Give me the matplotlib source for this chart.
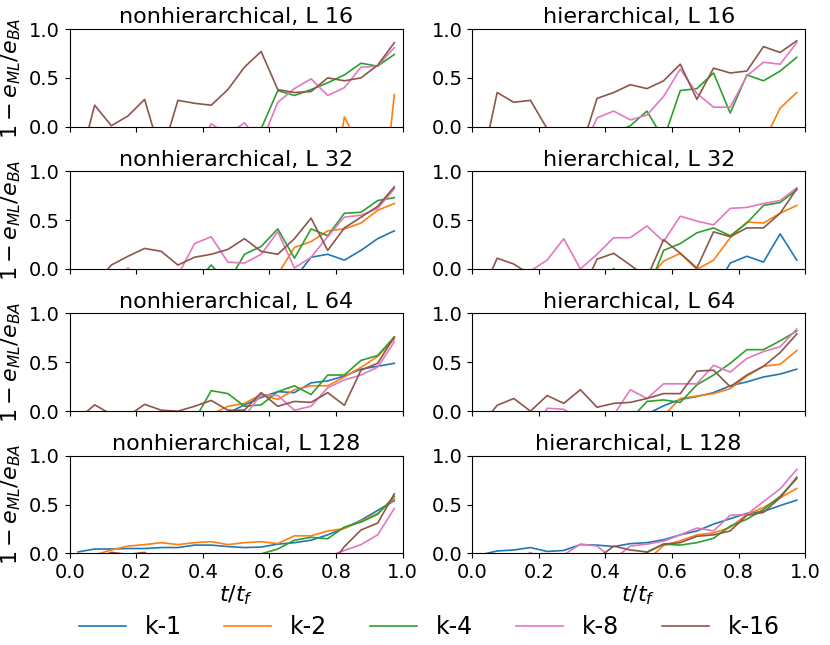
import matplotlib
matplotlib.use("Agg")
import matplotlib.pyplot as plt

# time points (fraction of final time)
t = [0.025, 0.075, 0.125, 0.175, 0.225, 0.275, 0.325, 0.375, 0.425, 0.475,
     0.525, 0.575, 0.625, 0.675, 0.725, 0.775, 0.825, 0.875, 0.925, 0.975]

series_labels = ["k-1", "k-2", "k-4", "k-8", "k-16"]
series_colors = ["#1f77b4", "#ff7f0e", "#2ca02c", "#e377c2", "#8c564b"]

# nonhierarchical, L 16
nh16_k1 = [-0.9, -0.8, -0.9, -0.7, -0.8, -0.7, -0.6, -0.7, -0.6, -0.5,
           -0.6, -0.5, -0.4, -0.5, -0.4, -0.3, -0.4, -0.3, -0.2, -0.1]
nh16_k2 = [-0.9, -1.0, -0.9, -1.1, -1.0, -0.9, -1.0, -1.1, -0.9, -1.0,
           -0.8, -0.9, -1.0, -0.8, -0.9, -0.9, 0.10, -0.23, -1.3, 0.33]
nh16_k4 = [-0.8, -0.9, -0.8, -0.7, -0.8, -0.7, -0.6, -0.7, -0.6, -0.5,
           -0.4, -0.02, 0.37, 0.32, 0.38, 0.45, 0.53, 0.65, 0.62, 0.74]
nh16_k8 = [-0.6, -0.7, -0.6, -0.7, -0.6, -0.5, -0.6, -0.3, 0.03, -0.08,
           0.04, -0.17, 0.25, 0.39, 0.49, 0.32, 0.40, 0.61, 0.62, 0.81]
nh16_k16 = [-0.43, 0.22, 0.01, 0.11, 0.28, -0.30, 0.27, 0.24, 0.22, 0.38,
            0.61, 0.77, 0.38, 0.35, 0.36, 0.50, 0.47, 0.50, 0.63, 0.86]

# hierarchical, L 16
h16_k1 = [-0.9, -0.8, -0.9, -0.7, -0.8, -0.7, -0.6, -0.7, -0.6, -0.5,
          -0.6, -0.5, -0.4, -0.5, -0.4, -0.3, -0.4, -0.3, -0.2, -0.1]
h16_k2 = [-0.9, -1.0, -0.9, -1.1, -1.0, -0.9, -1.0, -1.1, -0.9, -1.0,
          -0.8, -0.9, -1.0, -0.8, -0.9, -0.7, -0.5, -0.16, 0.19, 0.35]
h16_k4 = [-0.8, -0.9, -0.8, -0.7, -0.8, -0.7, -0.6, -0.5, -0.06, 0.01,
          0.16, -0.13, 0.37, 0.39, 0.55, 0.14, 0.53, 0.47, 0.57, 0.71]
h16_k8 = [-0.6, -0.7, -0.6, -0.7, -0.6, -0.5, -0.28, 0.09, 0.16, 0.07,
          0.12, 0.31, 0.59, 0.34, 0.20, 0.20, 0.52, 0.66, 0.64, 0.86]
h16_k16 = [-0.45, 0.35, 0.25, 0.27, -0.02, -0.40, -0.25, 0.29, 0.35, 0.43,
           0.39, 0.47, 0.64, 0.28, 0.60, 0.55, 0.57, 0.82, 0.76, 0.88]

# nonhierarchical, L 32
nh32_k1 = [-0.9, -0.8, -0.9, -0.7, -0.8, -0.7, -0.6, -0.7, -0.6, -0.5,
           -0.6, -0.5, -0.4, -0.10, 0.12, 0.15, 0.09, 0.19, 0.31, 0.39]
nh32_k2 = [-0.9, -1.0, -0.9, -1.1, -1.0, -0.9, -1.0, -0.8, -0.9, -0.7,
           -0.6, -0.5, -0.055, 0.22, 0.28, 0.39, 0.41, 0.47, 0.60, 0.67]
nh32_k4 = [-0.8, -0.9, -0.8, -0.7, -0.8, -0.7, -0.6, -0.16, 0.04, -0.14,
           0.15, 0.23, 0.41, 0.11, 0.41, 0.34, 0.57, 0.58, 0.70, 0.73]
nh32_k8 = [-0.6, -0.7, -0.2, 0.01, -0.2, -0.4, -0.065, 0.26, 0.33, 0.07,
           0.06, 0.15, 0.38, 0.01, 0.12, 0.33, 0.53, 0.55, 0.62, 0.82]
nh32_k16 = [-0.40, -0.16, 0.04, 0.13, 0.21, 0.18, 0.04, 0.12, 0.15, 0.20,
            0.31, 0.18, 0.15, 0.31, 0.52, 0.19, 0.42, 0.53, 0.64, 0.84]

# hierarchical, L 32
h32_k1 = [-0.9, -0.8, -0.9, -0.7, -0.8, -0.7, -0.6, -0.7, -0.6, -0.5,
          -0.6, -0.5, -0.4, -0.5, -0.24, 0.06, 0.13, 0.07, 0.36, 0.09]
h32_k2 = [-0.9, -1.0, -0.9, -1.1, -1.0, -0.9, -1.0, -0.8, -0.9, -0.7,
          -0.12, 0.08, 0.16, -0.005, 0.09, 0.32, 0.48, 0.47, 0.57, 0.65]
h32_k4 = [-0.8, -0.9, -0.8, -0.7, -0.8, -0.7, -0.6, -0.3, 0.005, -0.3,
          -0.24, 0.19, 0.26, 0.37, 0.42, 0.34, 0.47, 0.65, 0.68, 0.81]
h32_k8 = [-0.6, -0.7, -0.6, -0.02, 0.09, 0.31, 0.0, 0.15, 0.32, 0.32,
          0.44, 0.28, 0.54, 0.49, 0.45, 0.62, 0.63, 0.67, 0.70, 0.83]
h32_k16 = [-0.28, 0.11, 0.05, -0.06, -0.3, -0.4, -0.26, 0.10, 0.16, 0.04,
           -0.09, 0.30, 0.16, 0.01, 0.38, 0.33, 0.42, 0.42, 0.57, 0.82]

# nonhierarchical, L 64
nh64_k1 = [-0.9, -0.8, -0.9, -0.7, -0.8, -0.7, -0.6, -0.5, -0.3, -0.02,
           0.065, 0.14, 0.20, 0.19, 0.29, 0.31, 0.36, 0.43, 0.46, 0.49]
nh64_k2 = [-0.9, -1.0, -0.9, -1.1, -1.0, -0.9, -0.7, -0.4, -0.035, 0.05,
           0.08, 0.17, 0.12, 0.22, 0.26, 0.26, 0.35, 0.45, 0.56, 0.74]
nh64_k4 = [-0.8, -0.9, -0.8, -0.7, -0.8, -0.7, -0.5, -0.09, 0.21, 0.18,
           0.05, 0.065, 0.20, 0.26, 0.17, 0.37, 0.37, 0.52, 0.57, 0.76]
nh64_k8 = [-0.6, -0.7, -0.6, -0.7, -0.6, -0.5, -0.6, -0.5, -0.4, -0.3,
           -0.05, 0.17, 0.16, 0.01, 0.05, 0.24, 0.32, 0.37, 0.45, 0.71]
nh64_k16 = [-0.08, 0.065, -0.033, -0.05, 0.07, 0.01, 0.0, 0.05, 0.11, 0.01,
            0.01, 0.19, 0.05, 0.10, 0.09, 0.19, 0.06, 0.42, 0.49, 0.76]

# hierarchical, L 64
h64_k1 = [-0.9, -0.8, -0.9, -0.7, -0.8, -0.7, -0.6, -0.7, -0.6, -0.4,
          -0.03, 0.055, 0.12, 0.15, 0.19, 0.26, 0.30, 0.35, 0.38, 0.43]
h64_k2 = [-0.9, -1.0, -0.9, -1.1, -1.0, -0.9, -1.0, -0.8, -0.7, -0.5,
          -0.3, -0.046, 0.13, 0.155, 0.18, 0.23, 0.36, 0.46, 0.48, 0.62]
h64_k4 = [-0.8, -0.9, -0.8, -0.7, -0.8, -0.7, -0.6, -0.5, -0.4, -0.085,
          0.10, 0.115, 0.09, 0.27, 0.37, 0.49, 0.63, 0.63, 0.72, 0.82]
h64_k8 = [-0.6, -0.7, -0.6, -0.3, 0.03, 0.02, -0.10, -0.20, -0.04, 0.22,
          0.13, 0.28, 0.28, 0.28, 0.47, 0.40, 0.54, 0.61, 0.66, 0.84]
h64_k16 = [-0.15, 0.06, 0.13, 0.0, 0.16, 0.08, 0.22, 0.04, 0.08, 0.09,
           0.13, 0.18, 0.18, 0.41, 0.42, 0.25, 0.37, 0.46, 0.60, 0.79]

# nonhierarchical, L 128
nh128_k1 = [0.015, 0.045, 0.045, 0.05, 0.05, 0.06, 0.06, 0.085, 0.085, 0.07,
            0.06, 0.065, 0.095, 0.11, 0.135, 0.19, 0.26, 0.34, 0.44, 0.54]
nh128_k2 = [-0.2, -0.015, 0.035, 0.075, 0.09, 0.11, 0.09, 0.11, 0.12, 0.09,
            0.11, 0.12, 0.10, 0.18, 0.18, 0.23, 0.255, 0.33, 0.41, 0.56]
nh128_k4 = [-0.8, -0.9, -0.8, -0.7, -0.8, -0.7, -0.6, -0.5, -0.4, -0.3,
            -0.2, -0.005, 0.045, 0.135, 0.165, 0.15, 0.27, 0.32, 0.40, 0.585]
nh128_k8 = [-0.6, -0.7, -0.6, -0.7, -0.6, -0.5, -0.6, -0.5, -0.4, -0.5,
            -0.4, -0.3, -0.4, -0.3, -0.2, -0.03, 0.03, 0.09, 0.19, 0.46]
nh128_k16 = [-0.30, -0.05, 0.01, -0.01, 0.01, -0.10, -0.3, -0.4, -0.5, -0.4,
             -0.5, -0.4, -0.5, -0.4, -0.3, -0.16, 0.07, 0.24, 0.31, 0.61]

# hierarchical, L 128
h128_k1 = [-0.014, 0.025, 0.035, 0.06, 0.02, 0.03, 0.09, 0.085, 0.07, 0.10,
           0.11, 0.14, 0.19, 0.23, 0.30, 0.355, 0.41, 0.43, 0.49, 0.545]
h128_k2 = [-0.9, -1.0, -0.9, -1.1, -1.0, -0.9, -0.8, -0.7, -0.5, -0.3,
           -0.07, 0.08, 0.13, 0.19, 0.21, 0.265, 0.40, 0.47, 0.57, 0.665]
h128_k4 = [-0.8, -0.9, -0.8, -0.7, -0.8, -0.7, -0.6, -0.5, -0.3, -0.06,
           0.01, 0.095, 0.085, 0.11, 0.155, 0.28, 0.35, 0.45, 0.585, 0.765]
h128_k8 = [-0.6, -0.7, -0.10, 0.01, -0.10, -0.015, 0.095, 0.075, -0.06, 0.075,
           0.095, 0.125, 0.19, 0.26, 0.23, 0.39, 0.40, 0.53, 0.66, 0.86]
h128_k16 = [-0.9, -0.8, -0.9, -0.7, -0.8, -0.6, -0.4, -0.055, 0.075, 0.035,
            0.015, 0.095, 0.11, 0.175, 0.19, 0.23, 0.39, 0.42, 0.57, 0.78]

panel_titles = ["nonhierarchical, L 16", "hierarchical, L 16",
                "nonhierarchical, L 32", "hierarchical, L 32",
                "nonhierarchical, L 64", "hierarchical, L 64",
                "nonhierarchical, L 128", "hierarchical, L 128"]
panel_data = [
    [nh16_k1, nh16_k2, nh16_k4, nh16_k8, nh16_k16],
    [h16_k1, h16_k2, h16_k4, h16_k8, h16_k16],
    [nh32_k1, nh32_k2, nh32_k4, nh32_k8, nh32_k16],
    [h32_k1, h32_k2, h32_k4, h32_k8, h32_k16],
    [nh64_k1, nh64_k2, nh64_k4, nh64_k8, nh64_k16],
    [h64_k1, h64_k2, h64_k4, h64_k8, h64_k16],
    [nh128_k1, nh128_k2, nh128_k4, nh128_k8, nh128_k16],
    [h128_k1, h128_k2, h128_k4, h128_k8, h128_k16],
]

fig, axes = plt.subplots(4, 2, figsize=(8.3, 6.45), dpi=100, sharex=True)
fig.subplots_adjust(left=0.084, right=0.970, top=0.955, bottom=0.142,
                    hspace=0.456, wspace=0.209)

for i, ax in enumerate(axes.flat):
    for vals, lab, col in zip(panel_data[i], series_labels, series_colors):
        ax.plot(t, vals, color=col, lw=1.2, label=lab)
    ax.set_title(panel_titles[i], fontsize=16, pad=4)
    ax.set_xlim(0, 1)
    ax.set_ylim(0, 1)
    ax.set_yticks([0.0, 0.5, 1.0])
    ax.tick_params(labelsize=14)
    if i % 2 == 0:
        ax.set_ylabel(r"$1 - e_{ML}/e_{BA}$", fontsize=16)
    if i >= 6:
        ax.set_xlabel(r"$t/t_f$", fontsize=16, labelpad=1)

handles, labels = axes[0, 0].get_legend_handles_labels()
fig.legend(handles, labels, loc="lower center", ncol=5, frameon=False,
           fontsize=17, bbox_to_anchor=(0.517, -0.024), columnspacing=1.8)

fig.savefig("out.png", dpi=100)
